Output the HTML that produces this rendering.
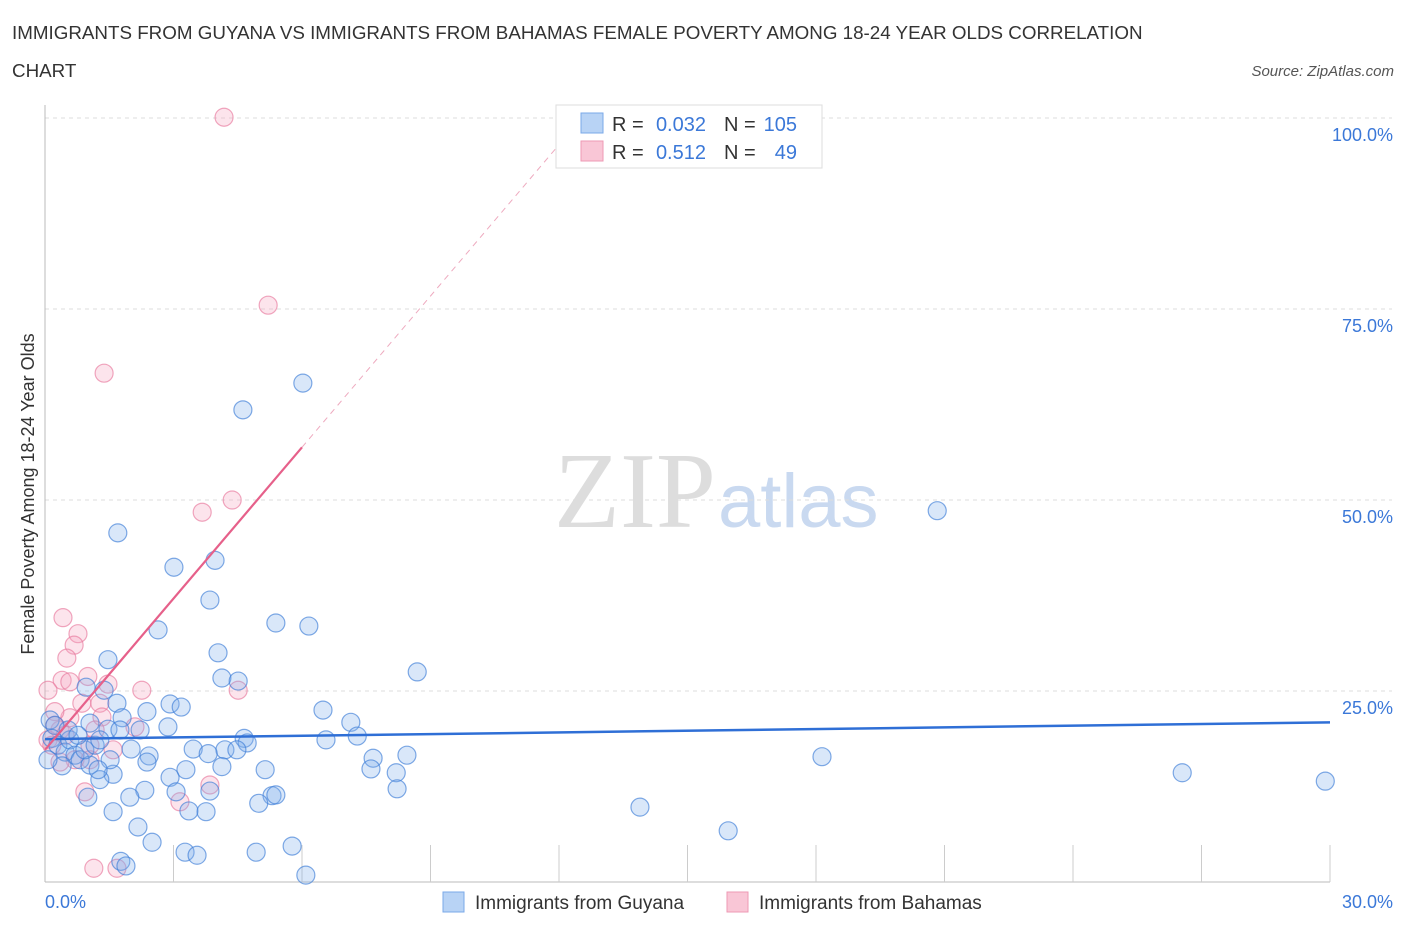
<!DOCTYPE html>
<html><head><meta charset="utf-8"><style>
body{margin:0;background:#fff;font-family:"Liberation Sans",sans-serif;}
svg text{font-family:"Liberation Sans",sans-serif;}
</style></head><body>
<svg id="chart" width="1406" height="930" viewBox="0 0 1406 930" xmlns="http://www.w3.org/2000/svg">
<text x="12" y="39" font-size="18.8" fill="#333">IMMIGRANTS FROM GUYANA VS IMMIGRANTS FROM BAHAMAS FEMALE POVERTY AMONG 18-24 YEAR OLDS CORRELATION</text>
<text x="12" y="77" font-size="18.8" fill="#333">CHART</text>
<text x="1394" y="76" font-size="15" fill="#555" font-style="italic" text-anchor="end">Source: ZipAtlas.com</text>
<text x="716" y="527" font-size="108" fill="#ddd" text-anchor="end" style="font-family:'Liberation Serif',serif">ZIP</text>
<text x="718" y="527" font-size="76" fill="#c9d9f0">atlas</text>
<text transform="translate(34,494) rotate(-90)" font-size="18" fill="#333" text-anchor="middle">Female Poverty Among 18-24 Year Olds</text>
<g id="grid"></g><g id="axes"></g><g id="pts"></g><g id="lines"></g>
<g>
<rect x="556" y="105" width="266" height="63" fill="#fff" stroke="#ddd"/>
<rect x="581" y="113" width="22" height="20" fill="#b8d3f5" stroke="#7aa8e8"/>
<rect x="581" y="141" width="22" height="20" fill="#f9c6d6" stroke="#ee99b4"/>
<text x="612" y="131" font-size="20" fill="#333">R =</text>
<text x="706" y="131" font-size="20" fill="#3b78d8" text-anchor="end">0.032</text>
<text x="724" y="131" font-size="20" fill="#333">N =</text>
<text x="797" y="131" font-size="20" fill="#3b78d8" text-anchor="end">105</text>
<text x="612" y="159" font-size="20" fill="#333">R =</text>
<text x="706" y="159" font-size="20" fill="#3b78d8" text-anchor="end">0.512</text>
<text x="724" y="159" font-size="20" fill="#333">N =</text>
<text x="797" y="159" font-size="20" fill="#3b78d8" text-anchor="end">49</text>
</g>
<g>
<rect x="443" y="892" width="21" height="20" fill="#b8d3f5" stroke="#7aa8e8"/>
<text x="475" y="909" font-size="19" fill="#333">Immigrants from Guyana</text>
<rect x="727" y="892" width="21" height="20" fill="#f9c6d6" stroke="#ee99b4"/>
<text x="759" y="909" font-size="19" fill="#333">Immigrants from Bahamas</text>
</g>
</svg>
<script>
const yTicks=[25,50,75,100];
const xTickLabels=["0.0%","30.0%"];
const guyanaX=[6.02,4.62,20.83,1.70,3.97,3.01,3.85,2.64,5.39,6.16,4.04,1.47,8.69,4.13,4.51,0.96,1.38,1.68,2.92,3.18,6.49,2.38,1.80,7.14,1.05,2.87,1.47,2.22,7.29,4.65,6.56,2.01,3.46,4.72,4.20,4.48,3.81,2.43,8.45,18.14,7.66,2.38,4.13,3.29,5.14,7.61,8.20,26.55,1.59,2.92,1.28,29.89,2.33,3.85,3.06,8.22,5.30,5.39,1.98,4.99,1.00,13.89,3.36,3.76,1.59,2.17,15.95,2.50,5.77,3.27,3.55,4.93,1.77,1.89,6.09,0.12,0.23,0.16,0.30,0.47,0.58,0.70,0.82,0.40,1.05,0.93,1.17,0.54,0.77,1.28,1.75,1.52,1.24,0.07];
const guyanaY=[65.3,61.8,48.6,45.7,42.1,41.2,36.9,33.0,33.9,33.5,30.0,29.1,27.5,26.7,26.3,25.5,25.1,23.4,23.3,22.9,22.5,22.3,21.5,20.9,20.8,20.3,20.0,19.9,19.1,18.8,18.6,17.4,17.4,18.2,17.3,17.3,16.8,16.5,16.6,16.4,16.2,15.7,15.1,14.7,14.7,14.8,14.3,14.3,14.1,13.7,13.4,13.2,12.0,11.9,11.8,12.2,11.3,11.4,11.1,10.3,11.1,9.8,9.3,9.2,9.2,7.2,6.7,5.2,4.7,3.9,3.5,3.9,2.7,2.1,0.9,21.2,20.5,18.8,17.9,17.0,18.6,16.6,16.0,15.2,15.3,17.3,17.9,19.9,19.2,18.6,19.9,16.0,14.7,16.0];
const bahamasX=[4.18,5.21,1.38,4.37,3.67,0.42,0.77,0.68,0.51,1.00,0.40,0.58,1.47,2.26,4.51,0.07,0.86,1.28,1.33,0.58,2.10,0.23,0.35,1.17,0.07,1.05,0.70,1.59,0.35,1.05,3.85,0.93,3.15,1.14,1.68,0.23,0.16,0.47];
const bahamasY=[100.1,75.5,66.6,50.0,48.4,34.6,32.5,31.0,29.3,26.9,26.4,26.2,25.9,25.1,25.1,25.1,23.4,23.4,21.6,21.5,20.3,22.3,19.9,19.9,18.6,17.9,16.0,17.3,15.7,16.0,12.7,11.8,10.5,1.8,1.8,20.5,17.9,19.2];
const guyanaTrend=[18.7,20.9];
const bahamasTrend=[17.3,56.9];
const NS="http://www.w3.org/2000/svg";
const X0=45,X1=1330,Y0=882,Ytop=118;
const sx=v=>X0+(v/30)*(X1-X0);
const sy=v=>Y0-(v/100)*(Y0-Ytop);
function mk(tag,attrs,parent){const e=document.createElementNS(NS,tag);for(const k in attrs)e.setAttribute(k,attrs[k]);parent.appendChild(e);return e;}
const grid=document.getElementById('grid'),axes=document.getElementById('axes'),pts=document.getElementById('pts'),lines=document.getElementById('lines');
yTicks.forEach(t=>{
 const l=mk('line',{x1:X0,x2:1392,y1:sy(t),y2:sy(t),stroke:'#ddd','stroke-dasharray':'4,4'},grid);
 
 
 const tx=mk('text',{x:1393,y:sy(t)+23,'font-size':18,fill:'#3b78d8','text-anchor':'end'},axes);
 tx.textContent=t.toFixed(1)+'%';
 
 
});
const ya=mk('line',{x1:X0,x2:X0,y1:105,y2:Y0,stroke:'#bbb'},axes);


const xa=mk('line',{x1:X0,x2:X1,y1:Y0,y2:Y0,stroke:'#bbb'},axes);


for(let i=1;i<=10;i++){
 const tk=mk('line',{x1:sx(i*3),x2:sx(i*3),y1:845,y2:Y0,stroke:'#ccc'},axes);
 
 
}
const xl0=mk('text',{x:45,y:908,'font-size':18,fill:'#3b78d8'},axes);xl0.textContent=xTickLabels[0];


const xl1=mk('text',{x:1393,y:908,'font-size':18,fill:'#3b78d8','text-anchor':'end'},axes);xl1.textContent=xTickLabels[1];


bahamasX.forEach((x,i)=>{
 const c=mk('circle',{cx:sx(x),cy:sy(bahamasY[i]),r:9,fill:'rgba(244,165,192,0.3)',stroke:'rgba(232,120,156,0.65)','stroke-width':1.2},pts);
 
 
});
guyanaX.forEach((x,i)=>{
 const c=mk('circle',{cx:sx(x),cy:sy(guyanaY[i]),r:9,fill:'rgba(130,175,235,0.3)',stroke:'rgba(60,125,215,0.65)','stroke-width':1.2},pts);
 
 
});
const gl=mk('line',{x1:sx(0),y1:sy(guyanaTrend[0]),x2:sx(30),y2:sy(guyanaTrend[1]),stroke:'#2f6fd6','stroke-width':2.5},lines);


const slope=(bahamasTrend[1]-bahamasTrend[0])/6;
const bl=mk('line',{x1:sx(0),y1:sy(bahamasTrend[0]),x2:sx(6),y2:sy(bahamasTrend[1]),stroke:'#e6608a','stroke-width':2.2},lines);


const xe=(100-bahamasTrend[0])/slope;
const bd=mk('line',{x1:sx(6),y1:sy(bahamasTrend[1]),x2:sx(xe),y2:sy(100),stroke:'#eeaabf','stroke-width':1,'stroke-dasharray':'6,5'},lines);


</script>
</body></html>
